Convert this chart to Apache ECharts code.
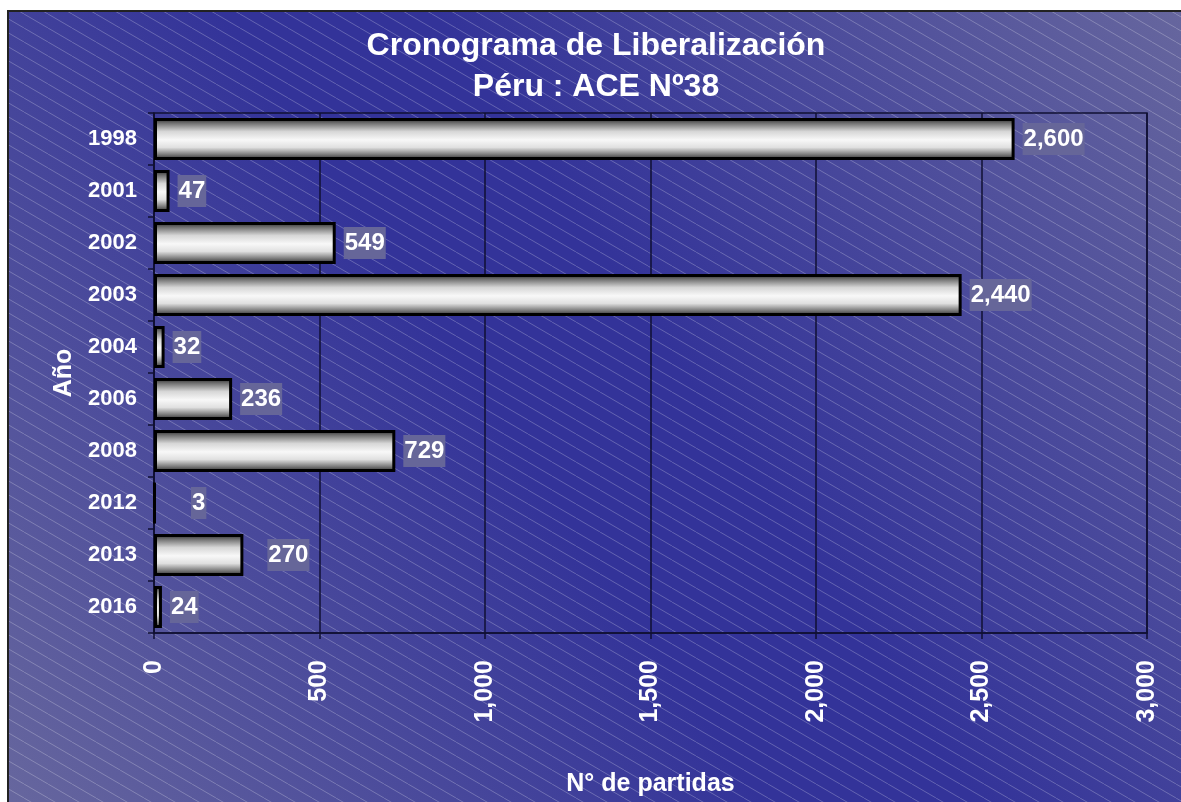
<!DOCTYPE html>
<html>
<head>
<meta charset="utf-8">
<script src="https://cdn.jsdelivr.net/npm/echarts@6/dist/echarts.min.js"></script>
<style>
  * { margin: 0; padding: 0; }
  body { background: #fff; }
  #chart { width: 1181px; height: 802px; }
</style>
</head>
<body>
<div id="chart"></div>
<script>
var years = ['1998', '2001', '2002', '2003', '2004', '2006', '2008', '2012', '2013', '2016'];
var partidas = [2600, 47, 549, 2440, 32, 236, 729, 3, 270, 24];
var xTicks = [0, 500, 1000, 1500, 2000, 2500, 3000];

var FONT = '"Liberation Sans", Arial, sans-serif';

// labels that were dragged away from the bar end in the original
var labelShift = { '2012': 27, '2013': 16 };

function fmt(v) {
  return String(v).replace(/\B(?=(\d{3})+(?!\d))/g, ',');
}

// diagonal hatch tile
var tile = document.createElement('canvas');
tile.width = 24;
tile.height = 14;
var ctx = tile.getContext('2d');
ctx.strokeStyle = 'rgba(255,255,255,0.24)';
ctx.lineWidth = 1;
ctx.beginPath();
ctx.moveTo(-24, -14);
ctx.lineTo(48, 28);
ctx.stroke();

var chart = echarts.init(document.getElementById('chart'));

var barData = partidas.map(function (v, i) {
  var item = { value: v };
  if (labelShift[years[i]]) item.label = { offset: [labelShift[years[i]], 0] };
  return item;
});

chart.setOption({
  animation: false,
  backgroundColor: '#ffffff',
  graphic: [
    {
      type: 'rect', z: -100, silent: true,
      shape: { x: 8, y: 11, width: 1200, height: 820 },
      style: {
        fill: {
          type: 'linear', x: 1, y: 0, x2: 0, y2: 1,
          colorStops: [
            { offset: 0, color: '#68689e' },
            { offset: 0.44, color: '#333399' },
            { offset: 0.56, color: '#333399' },
            { offset: 1, color: '#68689e' }
          ]
        },
        stroke: '#222222', lineWidth: 2
      }
    },
    {
      type: 'rect', z: -99, silent: true,
      shape: { x: 9, y: 12, width: 1200, height: 820 },
      style: { fill: { image: tile, repeat: 'repeat' } }
    }
  ],
  title: {
    text: 'Cronograma de Liberalización\nPéru : ACE Nº38',
    left: 591,
    textAlign: 'center',
    top: 21,
    textStyle: {
      color: '#ffffff', fontFamily: FONT, fontWeight: 'bold',
      fontSize: 32, lineHeight: 41
    }
  },
  grid: {
    left: 154, right: 34, top: 113, bottom: 164,
    show: true, borderColor: '#111133', borderWidth: 1.5
  },
  xAxis: {
    type: 'value',
    min: 0, max: 3000, interval: 500,
    name: 'N° de partidas',
    nameLocation: 'middle',
    nameGap: 139,
    nameTextStyle: { color: '#ffffff', fontFamily: FONT, fontWeight: 'bold', fontSize: 25 },
    axisLine: { show: true, lineStyle: { color: '#111133', width: 1.5 } },
    axisTick: { show: true, length: 6, lineStyle: { color: '#111133', width: 1.5 } },
    splitLine: { show: true, lineStyle: { color: '#111133', width: 1.5 } },
    axisLabel: {
      rotate: 90, margin: 27,
      color: '#ffffff', fontFamily: FONT, fontWeight: 'bold', fontSize: 25,
      formatter: function (v) { return xTicks.indexOf(v) >= 0 ? fmt(v) : ''; }
    }
  },
  yAxis: {
    type: 'category',
    data: years,
    inverse: true,
    name: 'Año',
    nameLocation: 'middle',
    nameGap: 77,
    nameRotate: 90,
    nameTextStyle: { color: '#ffffff', fontFamily: FONT, fontWeight: 'bold', fontSize: 25 },
    axisLine: { show: true, lineStyle: { color: '#111133', width: 1.5 } },
    axisTick: { show: true, length: 6, lineStyle: { color: '#111133', width: 1.5 } },
    axisLabel: {
      margin: 17,
      color: '#ffffff', fontFamily: FONT, fontWeight: 'bold', fontSize: 22
    }
  },
  series: [{
    type: 'bar',
    data: barData,
    barCategoryGap: '19%',
    itemStyle: {
      borderColor: '#000000',
      borderWidth: 3,
      color: {
        type: 'linear', x: 0, y: 0, x2: 0, y2: 1,
        colorStops: [
          { offset: 0, color: '#1e1e1e' },
          { offset: 0.12, color: '#6e6e6e' },
          { offset: 0.32, color: '#d6d6d6' },
          { offset: 0.52, color: '#f8f8f8' },
          { offset: 0.7, color: '#e0e0e0' },
          { offset: 0.86, color: '#808080' },
          { offset: 1, color: '#222222' }
        ]
      }
    },
    label: {
      show: true,
      position: 'right',
      distance: 8,
      color: '#ffffff',
      fontFamily: FONT,
      fontWeight: 'bold',
      fontSize: 24,
      lineHeight: 24,
      backgroundColor: '#666699',
      padding: [4, 1, 4, 1],
      formatter: function (p) { return fmt(p.value); }
    }
  }]
});
</script>
</body>
</html>
